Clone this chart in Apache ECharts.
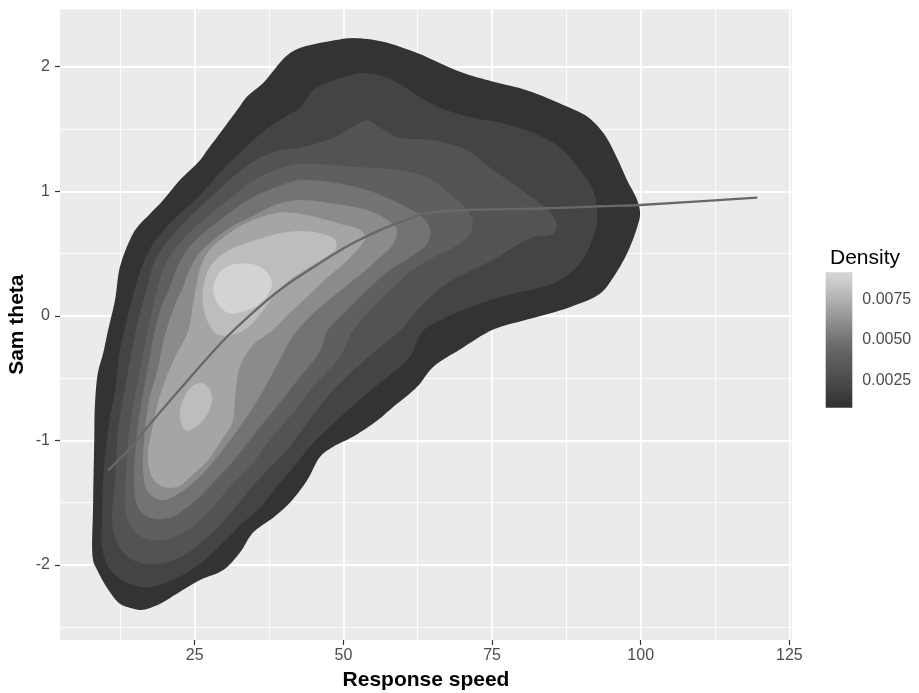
<!DOCTYPE html>
<html>
<head>
<meta charset="utf-8">
<title>Response speed and Sam theta: 2D density</title>
<script src="https://cdn.jsdelivr.net/npm/echarts@6.0.0/dist/echarts.min.js"></script>
<style>
  html, body { margin: 0; padding: 0; background: #ffffff; }
  #chart { width: 919px; height: 693px; }
</style>
</head>
<body>
<div id="chart"></div>
<script>
// ---- Axis ticks ----
const xMajorTicks = [25, 50, 75, 100, 125];
const xMinorTicks = [12.5, 37.5, 62.5, 87.5, 112.5];
const yMajorTicks = [-2, -1, 0, 1, 2];
const yMinorTicks = [-2.5, -1.5, -0.5, 0.5, 1.5];
const legendTicks = [0.0025, 0.0050, 0.0075];

// ---- Density contour levels ----
const densityLevels = [0.001, 0.002, 0.003, 0.004, 0.005, 0.006, 0.007, 0.008, 0.009];

// Contour rings [Response speed, Sam theta], one per level
const ring001 = [[40.5,2.09],[42.7,2.15],[48.3,2.21],[51.6,2.23],[56.7,2.20],[62.4,2.11],[69.6,1.96],[75.2,1.88],[80.9,1.81],[87.6,1.68],[91.0,1.60],[93.7,1.47],[96.0,1.27],[97.7,1.09],[99.4,0.93],[99.9,0.82],[99.4,0.71],[97.7,0.50],[95.4,0.31],[93.2,0.18],[88.1,0.07],[80.9,-0.03],[75.2,-0.11],[69.6,-0.27],[65.1,-0.41],[62.4,-0.57],[58.4,-0.73],[55.7,-0.84],[51.6,-0.97],[48.3,-1.05],[46.1,-1.13],[43.9,-1.32],[41.0,-1.50],[38.2,-1.62],[34.8,-1.74],[32.6,-1.90],[29.8,-2.04],[25.9,-2.12],[22.0,-2.23],[19.2,-2.31],[16.3,-2.36],[14.6,-2.35],[12.4,-2.31],[10.2,-2.18],[8.6,-2.04],[7.9,-1.96],[7.9,-1.53],[8.1,-1.00],[8.2,-0.73],[8.7,-0.46],[9.6,-0.30],[10.4,-0.12],[11.6,0.13],[12.4,0.39],[14.1,0.61],[15.3,0.71],[17.5,0.82],[19.7,0.93],[22.5,1.09],[25.9,1.25],[27.1,1.33],[29.3,1.47],[32.1,1.65],[33.8,1.76],[36.5,1.87]];
const ring002 = [[42.7,1.67],[44.9,1.81],[48.3,1.89],[54.0,1.95],[58.4,1.89],[62.4,1.77],[66.3,1.67],[71.8,1.59],[76.4,1.55],[81.9,1.47],[86.5,1.35],[89.8,1.17],[92.0,1.01],[92.7,0.79],[92.0,0.63],[89.8,0.42],[85.3,0.26],[78.6,0.18],[73.0,0.10],[67.4,-0.01],[63.4,-0.12],[61.2,-0.33],[57.4,-0.49],[53.3,-0.65],[48.9,-0.84],[44.9,-1.02],[42.2,-1.18],[38.8,-1.37],[36.0,-1.54],[33.1,-1.66],[29.8,-1.82],[25.9,-1.99],[21.3,-2.12],[17.0,-2.18],[13.6,-2.14],[10.8,-2.04],[9.4,-1.86],[9.4,-1.64],[9.6,-1.32],[10.4,-0.92],[11.6,-0.60],[12.4,-0.28],[13.6,-0.03],[15.0,0.23],[16.3,0.42],[18.0,0.58],[20.0,0.70],[22.5,0.82],[25.9,0.97],[29.6,1.17],[33.5,1.35],[36.8,1.49],[39.9,1.59]];
const ring003 = [[42.7,1.35],[48.3,1.43],[51.6,1.52],[54.0,1.57],[56.2,1.51],[59.5,1.43],[65.1,1.41],[70.8,1.33],[75.2,1.17],[80.9,0.98],[84.3,0.85],[85.9,0.74],[85.3,0.66],[81.9,0.63],[78.6,0.55],[75.2,0.45],[71.8,0.37],[67.4,0.26],[62.9,0.07],[59.5,-0.12],[56.2,-0.25],[51.6,-0.44],[47.3,-0.65],[43.9,-0.86],[40.5,-1.08],[37.2,-1.24],[33.8,-1.42],[30.4,-1.62],[27.1,-1.78],[22.5,-1.94],[18.7,-1.99],[14.6,-1.96],[11.9,-1.82],[11.1,-1.64],[11.6,-1.32],[12.1,-0.92],[12.9,-0.68],[14.1,-0.36],[15.5,-0.03],[17.0,0.23],[18.0,0.41],[19.5,0.54],[21.7,0.67],[24.5,0.81],[28.1,0.97],[32.3,1.15],[36.0,1.27],[39.4,1.33]];
const ring004 = [[42.7,1.22],[48.3,1.21],[54.0,1.19],[59.5,1.17],[64.1,1.11],[67.9,0.98],[70.8,0.85],[71.8,0.74],[70.8,0.63],[68.5,0.55],[65.1,0.47],[61.7,0.37],[58.4,0.23],[55.0,0.07],[51.6,-0.12],[49.4,-0.33],[44.9,-0.57],[41.5,-0.78],[37.7,-0.99],[34.8,-1.18],[30.9,-1.37],[27.6,-1.56],[23.7,-1.72],[19.7,-1.80],[16.3,-1.78],[14.1,-1.68],[13.3,-1.52],[13.4,-1.32],[13.8,-0.99],[14.8,-0.68],[16.1,-0.36],[17.5,-0.03],[18.8,0.23],[20.0,0.41],[21.7,0.54],[23.9,0.66],[26.7,0.78],[30.1,0.91],[34.3,1.07],[38.5,1.17]];
const ring005 = [[42.7,1.09],[48.3,1.07],[54.0,1.01],[59.5,0.90],[63.4,0.79],[64.6,0.69],[64.1,0.58],[61.2,0.47],[57.9,0.37],[54.0,0.21],[51.1,0.07],[47.3,-0.12],[46.1,-0.28],[42.2,-0.52],[38.8,-0.73],[35.5,-0.92],[32.1,-1.13],[28.1,-1.34],[24.7,-1.50],[20.8,-1.62],[17.5,-1.62],[15.5,-1.54],[14.8,-1.36],[15.0,-1.08],[15.8,-0.76],[17.0,-0.44],[18.3,-0.12],[19.5,0.09],[20.8,0.23],[22.2,0.41],[24.2,0.56],[27.1,0.69],[30.6,0.82],[34.3,0.94],[38.5,1.03]];
const ring006 = [[42.7,0.93],[48.3,0.90],[54.0,0.85],[57.4,0.77],[59.0,0.69],[58.4,0.58],[55.7,0.45],[52.3,0.31],[48.9,0.18],[45.6,0.05],[42.7,-0.09],[41.0,-0.20],[38.8,-0.40],[35.5,-0.68],[32.6,-0.89],[29.3,-1.10],[25.9,-1.29],[22.5,-1.42],[19.5,-1.48],[17.1,-1.41],[16.3,-1.24],[16.5,-0.99],[17.3,-0.68],[18.7,-0.44],[20.0,-0.15],[21.7,0.09],[23.0,0.23],[24.2,0.38],[25.9,0.51],[28.4,0.62],[31.3,0.72],[34.3,0.79],[38.5,0.89]];
const ring007 = [[39.4,0.83],[42.7,0.82],[45.6,0.79],[49.4,0.74],[52.8,0.69],[53.7,0.63],[52.5,0.54],[50.3,0.43],[46.9,0.29],[43.6,0.14],[40.7,0.01],[38.0,-0.12],[35.1,-0.22],[33.0,-0.36],[32.3,-0.46],[31.8,-0.65],[31.3,-0.86],[29.6,-0.99],[27.2,-1.16],[25.0,-1.26],[22.2,-1.37],[19.5,-1.37],[17.8,-1.29],[17.1,-1.13],[17.8,-0.92],[18.8,-0.70],[20.0,-0.52],[21.7,-0.33],[23.9,-0.12],[24.7,0.09],[25.2,0.23],[25.9,0.38],[27.2,0.51],[29.6,0.62],[32.6,0.72],[36.0,0.79]];
const ring008a = [[26.4,0.21],[27.1,0.35],[28.7,0.46],[31.8,0.55],[36.0,0.62],[40.2,0.67],[43.6,0.68],[46.4,0.66],[48.6,0.61],[48.8,0.54],[46.9,0.47],[43.9,0.38],[41.0,0.29],[38.5,0.17],[36.3,0.03],[34.0,-0.09],[31.4,-0.15],[28.9,-0.15],[27.2,-0.05],[26.4,0.09]];
const ring008b = [[26.2,-0.54],[27.4,-0.58],[27.9,-0.65],[27.6,-0.74],[26.7,-0.82],[25.2,-0.89],[23.5,-0.92],[22.7,-0.86],[22.5,-0.77],[23.0,-0.68],[23.9,-0.60],[25.0,-0.55]];
const ring009 = [[28.1,0.21],[28.9,0.33],[30.6,0.40],[32.6,0.42],[35.1,0.41],[37.2,0.35],[38.0,0.26],[37.3,0.17],[35.7,0.09],[33.5,0.04],[30.9,0.02],[29.1,0.08]];

// ---- Smoothed trend (Response speed -> Sam theta) ----
const trendSpeed = [10.4, 13.8, 17.1, 20.5, 23.4, 26.7, 30.6, 36.3, 40.2, 45.6, 51.1, 56.7, 61.2, 63.4, 70.8, 81.9, 93.2, 99.9, 119.6];
const trendTheta = [-1.24, -1.08, -0.89, -0.70, -0.54, -0.36, -0.16, 0.09, 0.24, 0.41, 0.57, 0.70, 0.78, 0.82, 0.85, 0.86, 0.88, 0.89, 0.95];

// Rings paired with their density level, drawn from lowest to highest
const contourRings = [
  { level: densityLevels[0], ring: ring001 },
  { level: densityLevels[1], ring: ring002 },
  { level: densityLevels[2], ring: ring003 },
  { level: densityLevels[3], ring: ring004 },
  { level: densityLevels[4], ring: ring005 },
  { level: densityLevels[5], ring: ring006 },
  { level: densityLevels[6], ring: ring007 },
  { level: densityLevels[7], ring: ring008a },
  { level: densityLevels[7], ring: ring008b },
  { level: densityLevels[8], ring: ring009 }
];

// Grey ramp for the fill scale (dark = low density, light = high density)
const levelPalette = ['#333333', '#444444', '#535353', '#5f5f5f', '#737373', '#8b8b8b', '#a5a5a5', '#bdbdbd', '#d3d3d3'];
function levelColor(level) {
  return levelPalette[densityLevels.indexOf(level)];
}

// Closed centripetal Catmull-Rom outline through the projected ring vertices
function smoothRing(pts, steps) {
  const n = pts.length;
  const out = [];
  const knot = (a, b) => Math.max(Math.sqrt(Math.hypot(b[0] - a[0], b[1] - a[1])), 1e-4);
  const lerp = (a, b, ta, tb, t) => {
    const wa = (tb - t) / (tb - ta), wb = (t - ta) / (tb - ta);
    return [a[0] * wa + b[0] * wb, a[1] * wa + b[1] * wb];
  };
  for (let i = 0; i < n; i++) {
    const p0 = pts[(i - 1 + n) % n], p1 = pts[i], p2 = pts[(i + 1) % n], p3 = pts[(i + 2) % n];
    const t0 = 0, t1 = t0 + knot(p0, p1), t2 = t1 + knot(p1, p2), t3 = t2 + knot(p2, p3);
    for (let s = 0; s < steps; s++) {
      const t = t1 + (t2 - t1) * s / steps;
      const a1 = lerp(p0, p1, t0, t1, t), a2 = lerp(p1, p2, t1, t2, t), a3 = lerp(p2, p3, t2, t3, t);
      const b1 = lerp(a1, a2, t0, t2, t), b2 = lerp(a2, a3, t1, t3, t);
      out.push(lerp(b1, b2, t1, t2, t));
    }
  }
  return out;
}

// Colour bar runs half a bin past the first and last level
const levelLo = densityLevels[0];
const levelHi = densityLevels[densityLevels.length - 1];
const halfBin = (levelHi - levelLo) / 38;
const barMin = levelLo - halfBin;
const barMax = levelHi + halfBin;

const FONT = '"Liberation Sans", Arial, Helvetica, sans-serif';
const chart = echarts.init(document.getElementById('chart'), null, { renderer: 'canvas' });

const xLimits = { min: 2.34, max: 125.45 };
const yLimits = { min: -2.602, max: 2.461 };

chart.setOption({
  backgroundColor: '#ffffff',
  animation: false,
  textStyle: { fontFamily: FONT },
  title: {
    text: 'Density',
    left: 825,
    top: 243,
    textStyle: { fontFamily: FONT, fontSize: 21, fontWeight: 'normal', color: '#000000' }
  },
  grid: [
    { left: 60, top: 9.3, right: 127, bottom: 53, show: true, backgroundColor: '#ebebeb', borderWidth: 0,
      containLabel: false, outerBoundsMode: 'none' },
    { left: 825.7, top: 272.3, width: 26.6, height: 135.4, show: false,
      containLabel: false, outerBoundsMode: 'none' }
  ],
  xAxis: [
    {
      gridIndex: 0, type: 'value', min: xLimits.min, max: xLimits.max, position: 'bottom',
      name: 'Response speed', nameLocation: 'middle', nameGap: 30,
      nameTextStyle: { fontFamily: FONT, fontSize: 21, fontWeight: 'bold', color: '#000000' },
      axisLine: { show: false, onZero: false },
      axisTick: { show: true, length: 5, customValues: xMajorTicks, lineStyle: { color: '#333333', width: 1.2 } },
      axisLabel: { customValues: xMajorTicks, color: '#4d4d4d', fontSize: 16, fontFamily: FONT, margin: 8 },
      splitLine: { show: true, lineStyle: { color: '#ffffff', width: 1.8 } }
    },
    {
      gridIndex: 0, type: 'value', min: xLimits.min, max: xLimits.max, position: 'bottom',
      axisLine: { show: false, onZero: false },
      axisTick: { show: false, customValues: xMinorTicks },
      axisLabel: { show: false, customValues: xMinorTicks },
      splitLine: { show: true, lineStyle: { color: '#ffffff', width: 0.9 } }
    },
    {
      gridIndex: 1, type: 'value', min: 0, max: 1, show: false
    }
  ],
  yAxis: [
    {
      gridIndex: 0, type: 'value', min: yLimits.min, max: yLimits.max, position: 'left',
      name: 'Sam theta', nameLocation: 'middle', nameGap: 32, nameRotate: 90, nameMoveOverlap: false,
      nameTextStyle: { fontFamily: FONT, fontSize: 21, fontWeight: 'bold', color: '#000000' },
      axisLine: { show: false, onZero: false },
      axisTick: { show: true, length: 5, customValues: yMajorTicks, lineStyle: { color: '#333333', width: 1.2 } },
      axisLabel: { customValues: yMajorTicks, color: '#4d4d4d', fontSize: 16, fontFamily: FONT, margin: 10 },
      splitLine: { show: true, lineStyle: { color: '#ffffff', width: 1.8 } }
    },
    {
      gridIndex: 0, type: 'value', min: yLimits.min, max: yLimits.max, position: 'left',
      axisLine: { show: false, onZero: false },
      axisTick: { show: false, customValues: yMinorTicks },
      axisLabel: { show: false, customValues: yMinorTicks },
      splitLine: { show: true, lineStyle: { color: '#ffffff', width: 0.9 } }
    },
    {
      gridIndex: 1, type: 'value', min: barMin, max: barMax, position: 'right',
      axisLine: { show: false, onZero: false },
      axisTick: { show: true, inside: true, length: 5, customValues: legendTicks, lineStyle: { color: 'rgba(255,255,255,0.85)', width: 1 } },
      axisLabel: { customValues: legendTicks, color: '#4d4d4d', fontSize: 16, fontFamily: FONT, margin: 10,
        formatter: v => v.toFixed(4) },
      splitLine: { show: false }
    },
    {
      gridIndex: 1, type: 'value', min: barMin, max: barMax, position: 'left',
      axisLine: { show: false, onZero: false },
      axisTick: { show: true, inside: true, length: 5, customValues: legendTicks, lineStyle: { color: 'rgba(255,255,255,0.85)', width: 1 } },
      axisLabel: { show: false, customValues: legendTicks },
      splitLine: { show: false }
    }
  ],
  series: [
    {
      // filled density contours
      type: 'custom',
      xAxisIndex: 0, yAxisIndex: 0,
      z: 2,
      silent: true,
      data: contourRings.map(r => r.ring[0]),
      renderItem: function (params, api) {
        const item = contourRings[params.dataIndex];
        const pts = smoothRing(item.ring.map(p => api.coord(p)), 8);
        return {
          type: 'polygon',
          shape: { points: pts },
          style: { fill: levelColor(item.level), stroke: null }
        };
      }
    },
    {
      // smoothed trend line
      type: 'line',
      xAxisIndex: 0, yAxisIndex: 0,
      z: 5,
      silent: true,
      smooth: 0.3,
      symbol: 'none',
      data: trendSpeed.map((s, i) => [s, trendTheta[i]]),
      lineStyle: { color: '#686868', width: 2.3 }
    },
    {
      // colour bar
      type: 'custom',
      xAxisIndex: 2, yAxisIndex: 2,
      silent: true,
      data: [[0, barMin]],
      renderItem: function (params, api) {
        const lo = api.coord([0, barMin]);
        const hi = api.coord([1, barMax]);
        const stops = densityLevels.map((lv, i) => ({
          offset: (lv - barMin) / (barMax - barMin),
          color: levelPalette[i]
        }));
        return {
          type: 'rect',
          shape: { x: lo[0], y: hi[1], width: hi[0] - lo[0], height: lo[1] - hi[1] },
          style: { fill: new echarts.graphic.LinearGradient(0, 1, 0, 0, stops) }
        };
      }
    }
  ]
});
</script>
</body>
</html>
